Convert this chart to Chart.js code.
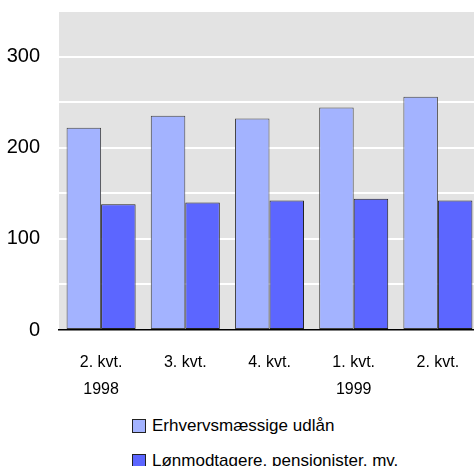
<!DOCTYPE html>
<html>
<head>
<meta charset="utf-8">
<script src="https://cdn.jsdelivr.net/npm/chart.js@4/dist/chart.umd.min.js"></script>
<style>
  html, body { margin: 0; padding: 0; background: #fff; overflow: hidden; width: 474px; height: 466px; }
  #wrap { position: absolute; left: 0; top: 0; width: 480px; height: 400px; }
  #legend { position: absolute; left: 132px; top: 408px; font-family: "Liberation Sans", Arial, sans-serif; font-size: 17px; color: #000; }
  .item { display: flex; align-items: center; height: 35px; }
  .box { width: 12px; height: 12px; border: 1px solid #222; margin-right: 6px; }
</style>
</head>
<body>
<div id="wrap"><canvas id="c"></canvas></div>
<div id="legend"></div>
<script>
const categories = [["2. kvt.", "1998"], ["3. kvt.", ""], ["4. kvt.", ""], ["1. kvt.", "1999"], ["2. kvt.", ""]];
const seriesNames = ["Erhvervsmæssige udlån", "Lønmodtagere, pensionister, mv."];
const erhverv = [222, 235, 232, 244, 256];
const loenmodtagere = [138, 140, 142, 144, 142];
const yTicks = [0, 100, 200, 300];
const colors = ["#a3b3ff", "#5c66ff"];

const bgPlugin = {
  id: 'bg',
  beforeDraw(chart) {
    const {ctx, chartArea: a} = chart;
    ctx.save();
    ctx.fillStyle = '#e3e3e3';
    ctx.fillRect(a.left, a.top, a.right - a.left, a.bottom - a.top);
    ctx.restore();
  }
};

const fontFam = '"Liberation Sans", Arial, sans-serif';

new Chart(document.getElementById('c'), {
  type: 'bar',
  data: {
    labels: categories,
    datasets: [
      { label: seriesNames[0], data: erhverv, backgroundColor: colors[0], borderColor: '#444', borderWidth: 1, borderSkipped: false },
      { label: seriesNames[1], data: loenmodtagere, backgroundColor: colors[1], borderColor: '#222', borderWidth: 1, borderSkipped: false }
    ]
  },
  plugins: [bgPlugin],
  options: {
    responsive: true,
    maintainAspectRatio: false,
    animation: false,
    layout: { padding: { top: 11, right: 0, left: 0, bottom: 0 } },
    plugins: { legend: { display: false }, tooltip: { enabled: false } },
    datasets: { bar: { categoryPercentage: 0.82, barPercentage: 1 } },
    scales: {
      x: {
        grid: { display: false, drawTicks: false },
        border: { display: true, color: '#000', width: 1.5 },
        ticks: { color: '#000', font: { family: fontFam, size: 16, lineHeight: 1.7 }, padding: 19, maxRotation: 0, autoSkip: false },
        afterFit(scale) { scale.height = 70; scale.paddingLeft = 0; scale.paddingRight = 0; }
      },
      y: {
        min: 0, max: 350,
        afterBuildTicks(scale) { scale.ticks = [0, 50, 100, 150, 200, 250, 300, 350].map(v => ({ value: v })); },
        grid: { color: '#ffffff', lineWidth: 2, drawTicks: false },
        border: { display: false },
        ticks: {
          color: '#000', font: { family: fontFam, size: 20 }, padding: 19,
          callback: (v) => yTicks.includes(v) ? String(v) : ''
        },
        afterFit(scale) { scale.width = 59; scale.paddingTop = 0; scale.paddingBottom = 0; }
      }
    }
  }
});

const lg = document.getElementById('legend');
seriesNames.forEach((n, i) => {
  const d = document.createElement('div'); d.className = 'item';
  const b = document.createElement('span'); b.className = 'box'; b.style.background = colors[i];
  const t = document.createElement('span'); t.textContent = n;
  d.appendChild(b); d.appendChild(t); lg.appendChild(d);
});
</script>
</body>
</html>
